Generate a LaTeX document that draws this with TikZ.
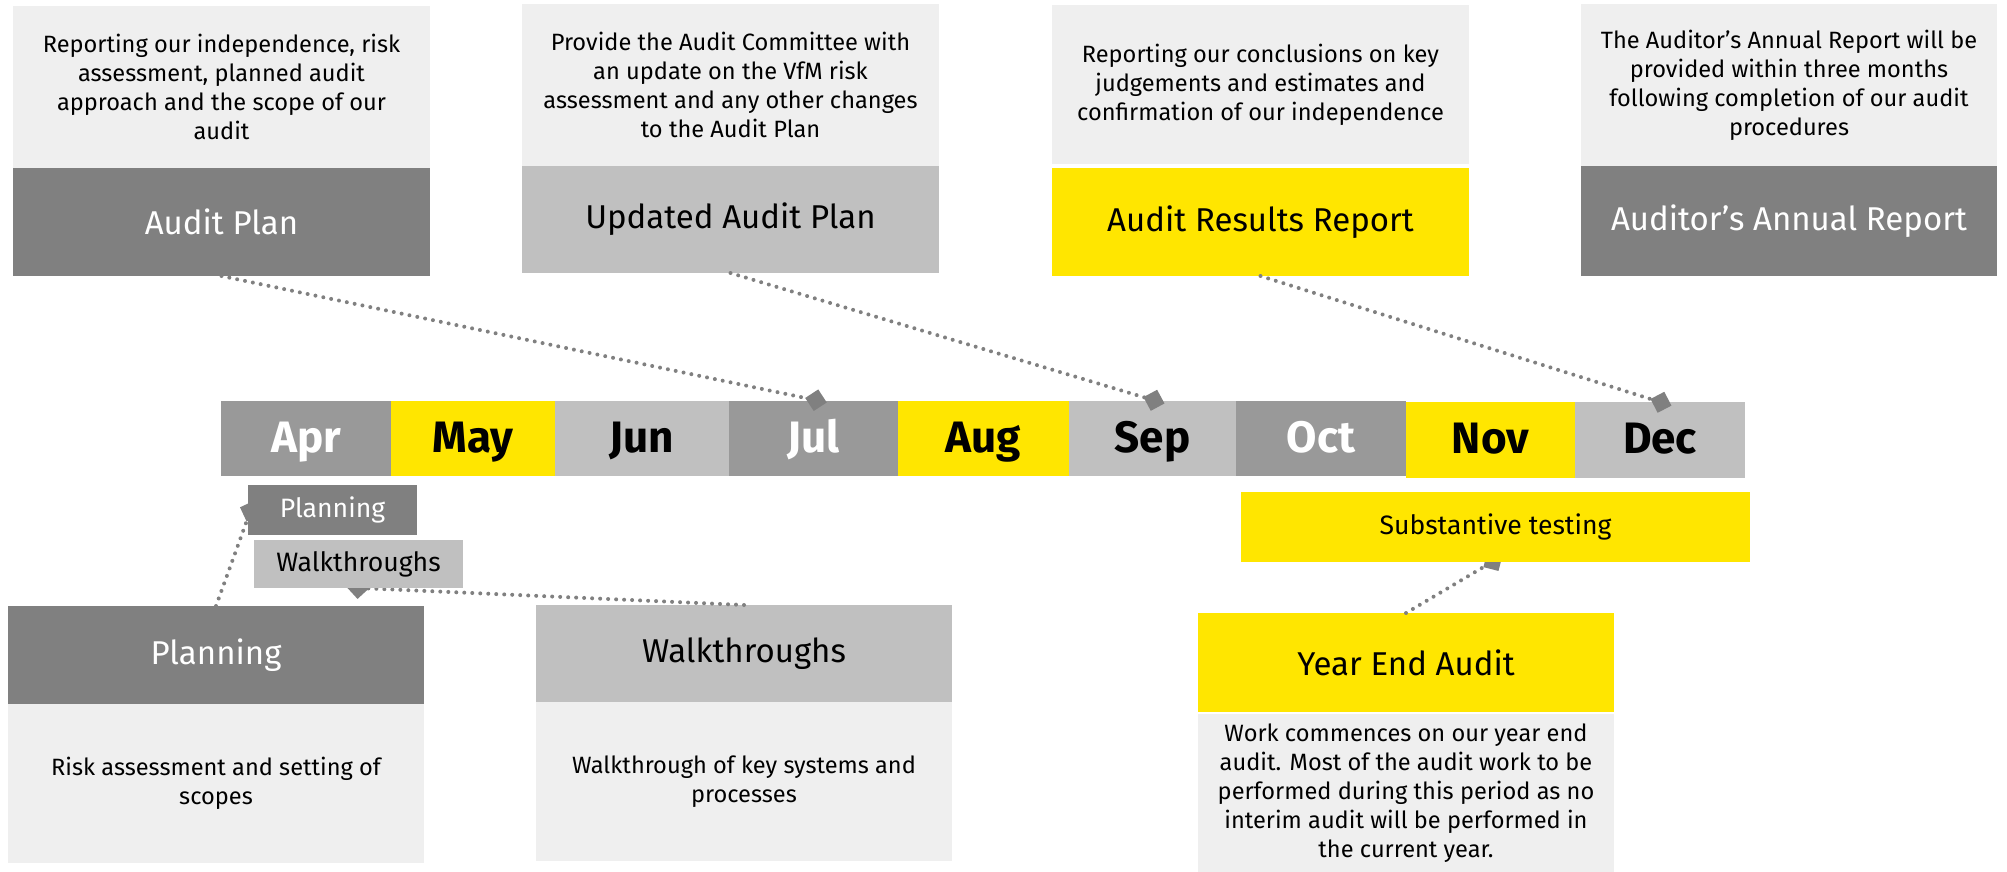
\documentclass[tikz,border=0pt]{standalone}
\usepackage{fontspec}
\setmainfont{Fira Sans}
\usetikzlibrary{arrows.meta}
\definecolor{eydark}{HTML}{808080}
\definecolor{eymid}{HTML}{999999}
\definecolor{eylight}{HTML}{C0C0C0}
\definecolor{eypale}{HTML}{EFEFEF}
\definecolor{eyyellow}{HTML}{FFE600}
\pgfdeclarelayer{front}
\pgfsetlayers{main,front}
\newcommand\ftxt{\fontsize{11.8}{14.5}\selectfont}
\newcommand\fhead{\fontsize{16.5}{19}\selectfont}
\newcommand\fmonth{\fontsize{22}{26}\selectfont\bfseries}
\newcommand\fsmall{\fontsize{13.3}{15}\selectfont}
\begin{document}
\begin{tikzpicture}[x=0.5pt,y=-0.5pt,
  box/.style={rectangle, inner sep=0pt, outer sep=0pt, anchor=north west, align=center},
  desc/.style={box, fill=eypale, font=\ftxt, text=black},
  head/.style={box, font=\fhead},
  month/.style={box, font=\fmonth, minimum height=37.5pt, text height=25.5pt, text depth=12pt},
  tag/.style={box, font=\fsmall},
  conn/.style={draw=eydark, line width=2pt, line cap=round, dash pattern=on 0pt off 4pt,
    -{Diamond[length=11pt,width=11pt,fill=eydark,color=eydark]}, shorten >=-6pt}]
\useasboundingbox (0,0) rectangle (2007,872);

% top boxes
\node[desc, minimum width=208.5pt, minimum height=81pt] (apT) at (13,6) {Reporting our independence, risk\\assessment, planned audit\\approach and the scope of our\\audit};
\node[head, fill=eydark, text=white, minimum width=208.5pt, minimum height=54pt] (apH) at (13,168) {Audit Plan};

\node[desc, minimum width=208.5pt, minimum height=81pt] (upT) at (522,4) {Provide the Audit Committee with\\an update on the VfM risk\\assessment and any other changes\\to the Audit Plan};
\node[head, fill=eylight, text=black, minimum width=208.5pt, minimum height=53.5pt] (upH) at (522,166) {Updated Audit Plan};

\node[desc, minimum width=208.5pt, minimum height=79.5pt] (arT) at (1052,5) {Reporting our conclusions on key\\judgements and estimates and\\confirmation of our independence};
\node[head, fill=eyyellow, text=black, minimum width=208.5pt, minimum height=54pt] (arH) at (1052,168) {Audit Results Report};

\node[desc, minimum width=208pt, minimum height=81pt] (aaT) at (1581,4) {The Auditor’s Annual Report will be\\provided within three months\\following completion of our audit\\procedures};
\node[head, fill=eydark, text=white, minimum width=208pt, minimum height=55pt] (aaH) at (1581,166) {Auditor’s Annual Report};

% months
\node[month, fill=eymid, text=white, minimum width=85pt] (apr) at (221,401) {Apr};
\node[month, fill=eyyellow, text=black, minimum width=82pt] (may) at (391,401) {May};
\node[month, fill=eylight, text=black, minimum width=87pt] (jun) at (555,401) {Jun};
\node[month, fill=eymid, text=white, minimum width=84.5pt] (jul) at (729,401) {Jul};
\node[month, fill=eyyellow, text=black, minimum width=85.5pt] (aug) at (898,401) {Aug};
\node[month, fill=eylight, text=black, minimum width=83.5pt] (sep) at (1069,401) {Sep};
\node[month, fill=eymid, text=white, minimum width=85pt] (oct) at (1236,401) {Oct};
\node[month, fill=eyyellow, text=black, minimum width=84.5pt, minimum height=38pt, text depth=12.5pt] (nov) at (1406,402) {Nov};
\node[month, fill=eylight, text=black, minimum width=85pt, minimum height=38pt, text depth=12.5pt] (dec) at (1575,402) {Dec};

% small bars (front layer)
\begin{pgfonlayer}{front}
\node[tag, fill=eydark, text=white, minimum width=84.5pt, minimum height=25pt] (plS) at (248,485) {Planning};
\node[tag, fill=eylight, text=black, minimum width=104.5pt, minimum height=24pt] (wtS) at (254,540) {Walkthroughs};
\node[tag, fill=eyyellow, text=black, minimum width=254.5pt, minimum height=35pt] (stS) at (1241,492) {Substantive testing};
\end{pgfonlayer}

% bottom boxes
\node[head, fill=eydark, text=white, minimum width=208pt, minimum height=49pt] (plH) at (8,606) {Planning};
\node[desc, minimum width=208pt, minimum height=79.5pt] (plT) at (8,704) {Risk assessment and setting of\\scopes};

\node[head, fill=eylight, text=black, minimum width=208pt, minimum height=48.5pt] (wtH) at (536,605) {Walkthroughs};
\node[desc, minimum width=208pt, minimum height=79.5pt] (wtT) at (536,702) {Walkthrough of key systems and\\processes};

\node[head, fill=eyyellow, text=black, minimum width=208pt, minimum height=49.5pt] (yeH) at (1198,613) {Year End Audit};
\node[desc, minimum width=208pt, minimum height=79pt] (yeT) at (1198,714) {Work commences on our year end\\audit. Most of the audit work to be\\performed during this period as no\\interim audit will be performed in\\the current year.};

% diamond positions
\coordinate (dJul) at (815,400);
\coordinate (dSep) at (1153,400);
\coordinate (dDec) at (1660,402);
\coordinate (dPl) at (250,512);
\coordinate (dWt) at (359,588);
\coordinate (dSt) at (1492,562);

% connectors
\draw[conn] (apH.south) -- (dJul);
\draw[conn] (upH.south) -- (dSep);
\draw[conn] (arH.south) -- (dDec);
\draw[conn] (plH.north) -- (dPl);
\draw[conn] (wtH.north) -- (dWt);
\draw[conn] (yeH.north) -- (dSt);
\end{tikzpicture}
\end{document}
